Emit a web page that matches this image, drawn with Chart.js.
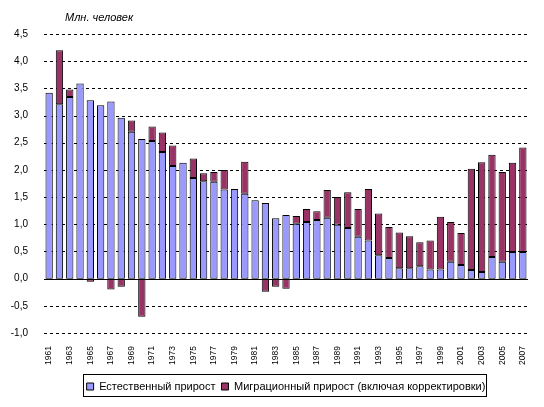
<!DOCTYPE html>
<html>
<head>
<meta charset="utf-8">
<script src="https://cdn.jsdelivr.net/npm/chart.js@4"></script>
<style>
html,body{margin:0;padding:0;background:#fff;}
#wrap{width:544px;height:407px;position:relative;}
</style>
</head>
<body>
<div id="wrap"><canvas id="c" width="544" height="407"></canvas></div>
<script>
const years = [1961,1962,1963,1964,1965,1966,1967,1968,1969,1970,
  1971,1972,1973,1974,1975,1976,1977,1978,1979,1980,
  1981,1982,1983,1984,1985,1986,1987,1988,1989,1990,
  1991,1992,1993,1994,1995,1996,1997,1998,1999,2000,
  2001,2002,2003,2004,2005,2006,2007];
const naturalGrowth = [3.42,3.21,3.34,3.59,3.28,3.19,3.26,2.96,2.70,2.57,
  2.53,2.33,2.07,2.13,1.85,1.79,1.78,1.64,1.65,1.56,
  1.44,1.39,1.11,1.17,1.01,1.04,1.08,1.12,0.99,0.93,
  0.77,0.70,0.43,0.38,0.19,0.19,0.23,0.17,0.17,0.31,
  0.25,0.16,0.12,0.40,0.31,0.49,0.49];
const migrationGrowth = [0,0.99,0.14,-0.02,-0.055,0,-0.20,-0.15,0.21,-0.70,
  0.27,0.36,0.38,0,0.36,0.15,0.18,0.36,0,0.59,
  0,-0.24,-0.15,-0.185,0.14,0.24,0.16,0.51,0.51,0.66,
  0.51,0.95,0.77,0.57,0.66,0.59,0.44,0.53,0.97,0.73,
  0.59,1.86,2.02,1.88,1.65,1.64,1.92];
const seriesNames = ['Естественный прирост','Миграционный прирост (включая корректировки)'];
const yTicks = [-1.0,-0.5,0,0.5,1.0,1.5,2.0,2.5,3.0,3.5,4.0,4.5];
const unitTitle = 'Млн. человек';

const FONT = "'Liberation Sans', Arial, sans-serif";

function zeroLine(chart) {
  const {ctx, chartArea, scales} = chart;
  const y0 = Math.round(scales.y.getPixelForValue(0)) + 0.5;
  ctx.save();
  ctx.strokeStyle = '#000';
  ctx.lineWidth = 1;
  ctx.beginPath();
  ctx.moveTo(chartArea.left, y0);
  ctx.lineTo(chartArea.right, y0);
  ctx.stroke();
  ctx.restore();
}

const extras = {
  id: 'extras',
  beforeDatasetsDraw(chart) {
    const {ctx, chartArea, scales} = chart;
    ctx.save();
    ctx.strokeStyle = '#000';
    ctx.lineWidth = 1;
    ctx.setLineDash([3, 3]);
    yTicks.forEach(v => {
      if (v === 0) return;
      const py = Math.round(scales.y.getPixelForValue(v)) + 0.5;
      ctx.beginPath();
      ctx.moveTo(chartArea.left, py);
      ctx.lineTo(chartArea.right, py);
      ctx.stroke();
    });
    ctx.restore();
    zeroLine(chart);
  },
  afterDatasetsDraw(chart) {
    const {ctx, chartArea} = chart;
    zeroLine(chart);
    ctx.save();
    ctx.fillStyle = '#000';
    ctx.font = "italic 11px " + FONT;
    ctx.textBaseline = 'middle';
    ctx.textAlign = 'left';
    ctx.fillText(unitTitle, chartArea.left + 21, chartArea.top - 16);
    ctx.restore();
  },
  afterDraw(chart) {
    const lg = chart.legend;
    if (!lg || !lg.legendHitBoxes || !lg.legendHitBoxes.length) return;
    let l = Infinity, r = -Infinity, t = Infinity, b = -Infinity;
    lg.legendHitBoxes.forEach(h => {
      l = Math.min(l, h.left); r = Math.max(r, h.left + h.width);
      t = Math.min(t, h.top); b = Math.max(b, h.top + h.height);
    });
    const ctx = chart.ctx;
    ctx.save();
    ctx.strokeStyle = '#000';
    ctx.lineWidth = 1;
    ctx.strokeRect(Math.round(l) - 3.5, Math.round(t) - 6.5, Math.round(r - l) + 4, Math.round(b - t) + 11);
    ctx.restore();
  }
};

new Chart(document.getElementById('c'), {
  type: 'bar',
  data: {
    labels: years.map(String),
    datasets: [
      {label: seriesNames[0], data: naturalGrowth, backgroundColor: '#9999FF', borderColor: '#000', borderWidth: 1, borderSkipped: false},
      {label: seriesNames[1], data: migrationGrowth, backgroundColor: '#993366', borderColor: '#000', borderWidth: 1, borderSkipped: false}
    ]
  },
  options: {
    responsive: false,
    animation: false,
    devicePixelRatio: 1,
    layout: {padding: {top: 34, right: 16, bottom: 5, left: 0}},
    datasets: {bar: {barPercentage: 0.71, categoryPercentage: 1}},
    plugins: {
      title: {display: false},
      tooltip: {enabled: false},
      legend: {
        position: 'bottom',
        fullSize: false,
        labels: {
          color: '#000',
          font: {family: FONT, size: 11},
          boxWidth: 7, boxHeight: 7, padding: 6
        }
      }
    },
    scales: {
      x: {
        stacked: true,
        grid: {display: false},
        border: {display: false},
        ticks: {
          color: '#000',
          font: {family: FONT, size: 8.5},
          autoSkip: false,
          minRotation: 90, maxRotation: 90,
          padding: 5,
          callback: function(v, i) { return i % 2 === 0 ? years[i] : null; }
        },
        afterFit(scale) { scale.height = 42; }
      },
      y: {
        stacked: true,
        min: yTicks[0], max: yTicks[yTicks.length - 1],
        afterBuildTicks(scale) { scale.ticks = yTicks.map(v => ({value: v})); },
        grid: {display: false, drawTicks: false},
        border: {display: false},
        ticks: {
          color: '#000',
          font: {family: FONT, size: 10},
          padding: 16,
          callback: v => Number(v).toFixed(1).replace('.', ',')
        },
        afterFit(scale) { scale.width = 44; }
      }
    }
  },
  plugins: [extras]
});
</script>
</body>
</html>
